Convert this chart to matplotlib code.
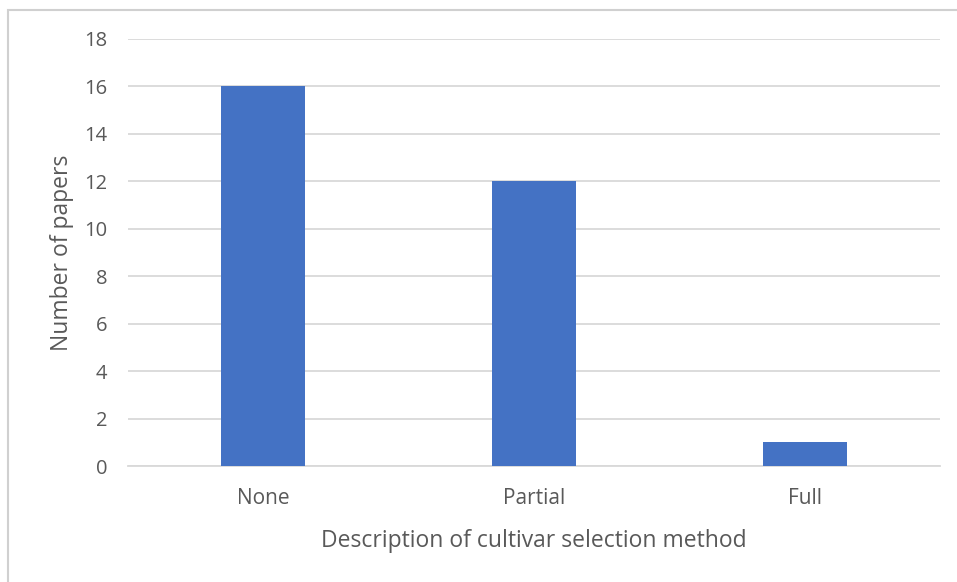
import matplotlib.pyplot as plt
from matplotlib.patches import Rectangle

plt.rcParams['font.family'] = ['Open Sans', 'DejaVu Sans']

categories = ['None', 'Partial', 'Full']
papers = [16, 12, 1]
yticks = [0, 2, 4, 6, 8, 10, 12, 14, 16, 18]

fig = plt.figure(figsize=(9.57, 5.82), dpi=100)
ax = fig.add_axes([128 / 957, 1 - 466 / 582, 812 / 957, 427 / 582])

ax.bar(range(len(categories)), papers, width=0.31, color='#4472c4', zorder=3)
ax.set_xlim(-0.5, 2.5)
ax.set_ylim(0, 18)
ax.set_yticks(yticks)
ax.set_xticks(range(len(categories)))
ax.set_xticklabels(categories)

ax.grid(axis='y', color='#d9d9d9', linewidth=1.3, zorder=0)
for s in ['top', 'right', 'left']:
    ax.spines[s].set_visible(False)
ax.spines['bottom'].set_color('#d9d9d9')
ax.spines['bottom'].set_linewidth(1.3)
ax.tick_params(axis='x', length=0, colors='#595959', labelsize=15, pad=16)
ax.tick_params(axis='y', length=0, colors='#595959', labelsize=14.5, pad=15)

ax.set_xlabel('Description of cultivar selection method', fontsize=16.5, color='#595959', labelpad=14)
ax.set_ylabel('Number of papers', fontsize=16.5, color='#595959', labelpad=7)

# light frame around the chart
fig.patches.append(Rectangle((8 / 957, -0.1), 1.1, 1 - 10 / 582 + 0.1, transform=fig.transFigure,
                             fill=False, edgecolor='#d0d0d0', linewidth=1.5))

fig.savefig('out.png', dpi=100)
